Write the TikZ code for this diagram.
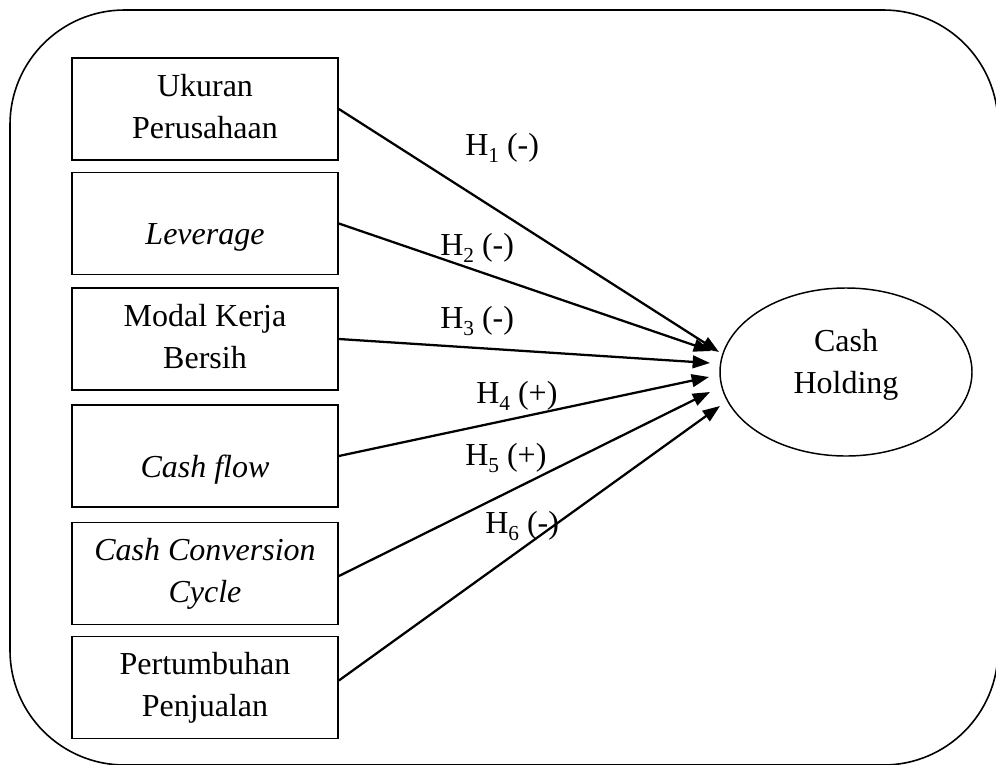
\documentclass[tikz,border=0pt]{standalone}
\usepackage{fontspec}
\setmainfont{Liberation Serif}
\usetikzlibrary{arrows.meta,shapes.geometric}
\newcommand{\Hyp}[2]{H\raisebox{-0.22em}{\fontsize{16}{16}\selectfont #1}\ (#2)}
\newcommand{\twoline}[2]{\begin{tabular}{@{}c@{}}#1\\#2\end{tabular}}
\newcommand{\oneline}[1]{\raisebox{-9.6pt}[\height][\depth]{\begin{tabular}{@{}c@{}}#1\end{tabular}}}
\begin{document}
\begin{tikzpicture}[x=0.75pt,y=-0.75pt,
  every node/.style={font=\fontsize{24}{31.5}\selectfont},
  varbox/.style={draw, line width=1.3pt, minimum width=199.5pt, minimum height=76.5pt, inner sep=0pt},
  outcome/.style={draw, ellipse, line width=1.1pt, minimum width=189pt, minimum height=126pt, inner sep=0pt},
  link/.style={line width=1.7pt, -{Triangle[length=13pt,width=9.5pt]}},
  hyp/.style={anchor=base west, inner sep=0pt}]
\useasboundingbox (0,0) rectangle (996,764);
\clip (0,0) rectangle (996,764);
\draw[line width=1.2pt, rounded corners=86pt] (10,10) rectangle (998,765);

\node[varbox] (b1) at (205,109) {\twoline{Ukuran}{Perusahaan}};
\node[varbox] (b2) at (205,223.5) {\oneline{\textit{Leverage}}};
\node[varbox] (b3) at (205,339) {\twoline{Modal Kerja}{Bersih}};
\node[varbox] (b4) at (205,456) {\oneline{\textit{Cash flow}}};
\node[varbox] (b5) at (205,573.5) {\twoline{\textit{Cash Conversion}}{\textit{Cycle}}};
\node[varbox] (b6) at (205,687.5) {\twoline{Pertumbuhan}{Penjualan}};

\node[outcome] (ch) at (846,372) {\raisebox{6pt}[\height][\depth]{\twoline{Cash}{Holding}}};

\coordinate (t1) at (719,352);
\coordinate (t2) at (711,351);
\coordinate (t3) at (710,363);
\coordinate (t4) at (709,377);
\coordinate (t5) at (710,392);
\coordinate (t6) at (720,406);

\draw[link] (b1.east) -- (t1);
\draw[link] (b2.east) -- (t2);
\draw[link] (b3.east) -- (t3);
\draw[link] (b4.east) -- (t4);
\draw[link] ([yshift=-1.9pt]b5.east) -- (t5);
\draw[link] ([yshift=5.25pt]b6.east) -- (t6);

\node[hyp] (h1) at (465,155) {\Hyp{1}{-}};
\node[hyp] (h2) at (440,255) {\Hyp{2}{-}};
\node[hyp] (h3) at (440,328) {\Hyp{3}{-}};
\node[hyp] (h4) at (476,403) {\Hyp{4}{+}};
\node[hyp] (h5) at (465,465) {\Hyp{5}{+}};
\node[hyp] (h6) at (485,533) {\Hyp{6}{-}};
\end{tikzpicture}
\end{document}
